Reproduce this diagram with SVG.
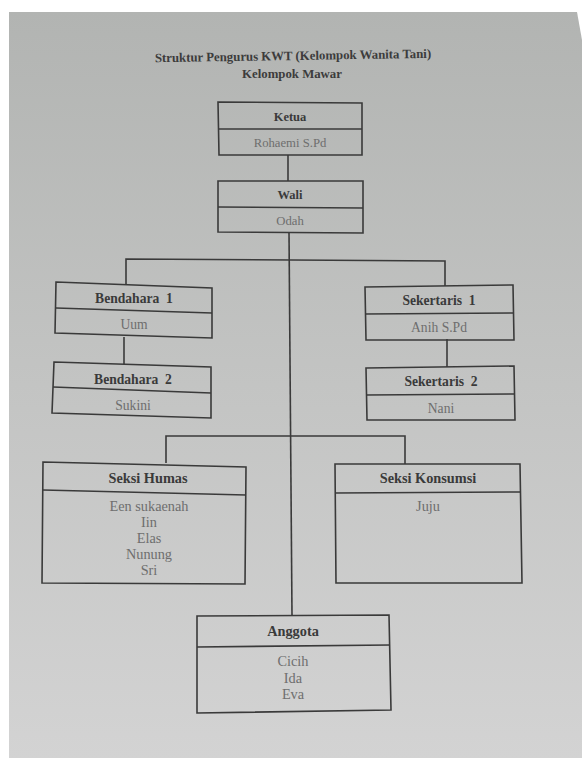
<svg xmlns="http://www.w3.org/2000/svg" width="582" height="758" viewBox="0 0 582 758">
<defs>
<linearGradient id="paper" x1="0" y1="0" x2="0" y2="1">
<stop offset="0" stop-color="#b2b4b2"/>
<stop offset="0.5" stop-color="#c3c4c3"/>
<stop offset="1" stop-color="#d3d3d3"/>
</linearGradient>
<style>
.box{fill:none;stroke:#3a3a3a;stroke-width:1.6}
.ln{fill:none;stroke:#3a3a3a;stroke-width:1.6}
.h{font-family:"Liberation Serif","Times New Roman",serif;font-weight:bold;font-size:12.5px;fill:#3a3a3a;text-anchor:middle}
.n{font-family:"Liberation Serif","Times New Roman",serif;font-size:12.7px;fill:#6e6e6e;text-anchor:middle}
.m{font-size:13.6px}
.l{font-size:14.3px}
.t{font-family:"Liberation Serif","Times New Roman",serif;font-weight:bold;font-size:12.8px;fill:#3c3c3c;text-anchor:middle}
</style>
</defs>
<rect width="582" height="758" fill="#ffffff"/>
<polygon points="9,12 577,12 582,40 582,758 9,758" fill="url(#paper)"/>
<g id="title">
<text class="t" x="293" y="60" transform="rotate(-0.9 293 56)">Struktur Pengurus KWT (Kelompok Wanita Tani)</text>
<text class="t" x="292" y="78">Kelompok Mawar</text>
</g>
<g id="connectors">
<line class="ln" x1="288" y1="155" x2="288" y2="181"/>
<line class="ln" x1="289" y1="232" x2="292" y2="616"/>
<polyline class="ln" points="126,284 126,259 445,261 445,286"/>
<line class="ln" x1="124" y1="337" x2="124" y2="364"/>
<line class="ln" x1="447" y1="339" x2="447" y2="367"/>
<polyline class="ln" points="166,463 166,436 405,436 405,464"/>
</g>
<g id="ketua">
<polygon class="box" points="218,102 362,103 362,155 219,155"/>
<line class="ln" x1="218" y1="129" x2="362" y2="129"/>
<text class="h" x="290" y="121">Ketua</text>
<text class="n" x="290" y="147">Rohaemi S.Pd</text>
</g>
<g id="wali">
<polygon class="box" points="218,181 363,181 363,233 218,232"/>
<line class="ln" x1="218" y1="207" x2="363" y2="208"/>
<text class="h" x="290" y="199">Wali</text>
<text class="n" x="290" y="225">Odah</text>
</g>
<g id="bendahara1">
<polygon class="box" points="56,282 212,288 212,338 55,333"/>
<line class="ln" x1="56" y1="308" x2="212" y2="313"/>
<text class="h m" x="134" y="303">Bendahara&#160; 1</text>
<text class="n m" x="134" y="329">Uum</text>
</g>
<g id="bendahara2">
<polygon class="box" points="54,362 211,367 211,418 52,413"/>
<line class="ln" x1="53" y1="387" x2="211" y2="393"/>
<text class="h m" x="133" y="384">Bendahara&#160; 2</text>
<text class="n m" x="133" y="410">Sukini</text>
</g>
<g id="sekertaris1">
<polygon class="box" points="365,287 513,285 514,340 366,340"/>
<line class="ln" x1="365" y1="314" x2="513" y2="313"/>
<text class="h m" x="439" y="305">Sekertaris&#160; 1</text>
<text class="n m" x="439" y="332">Anih S.Pd</text>
</g>
<g id="sekertaris2">
<polygon class="box" points="366,368 514,366 515,420 367,420"/>
<line class="ln" x1="366" y1="395" x2="514" y2="394"/>
<text class="h m" x="441" y="386">Sekertaris&#160; 2</text>
<text class="n m" x="441" y="413">Nani</text>
</g>
<g id="seksi-humas">
<polygon class="box" points="43,462 246,467 245,584 42,583"/>
<line class="ln" x1="43" y1="490" x2="246" y2="495"/>
<text class="h l" x="148" y="483">Seksi Humas</text>
<text class="n l" x="149" y="511">Een sukaenah</text>
<text class="n l" x="149" y="527">Iin</text>
<text class="n l" x="149" y="543">Elas</text>
<text class="n l" x="149" y="559">Nunung</text>
<text class="n l" x="149" y="575">Sri</text>
</g>
<g id="seksi-konsumsi">
<polygon class="box" points="335,464 520,464 522,583 336,583"/>
<line class="ln" x1="335" y1="493" x2="521" y2="492"/>
<text class="h l" x="428" y="483">Seksi Konsumsi</text>
<text class="n l" x="428" y="511">Juju</text>
</g>
<g id="anggota">
<polygon class="box" points="197,616 389,615 391,710 197,713"/>
<line class="ln" x1="197" y1="647" x2="390" y2="645"/>
<text class="h l" x="293" y="636">Anggota</text>
<text class="n l" x="293" y="666">Cicih</text>
<text class="n l" x="293" y="683">Ida</text>
<text class="n l" x="293" y="699">Eva</text>
</g>
</svg>
